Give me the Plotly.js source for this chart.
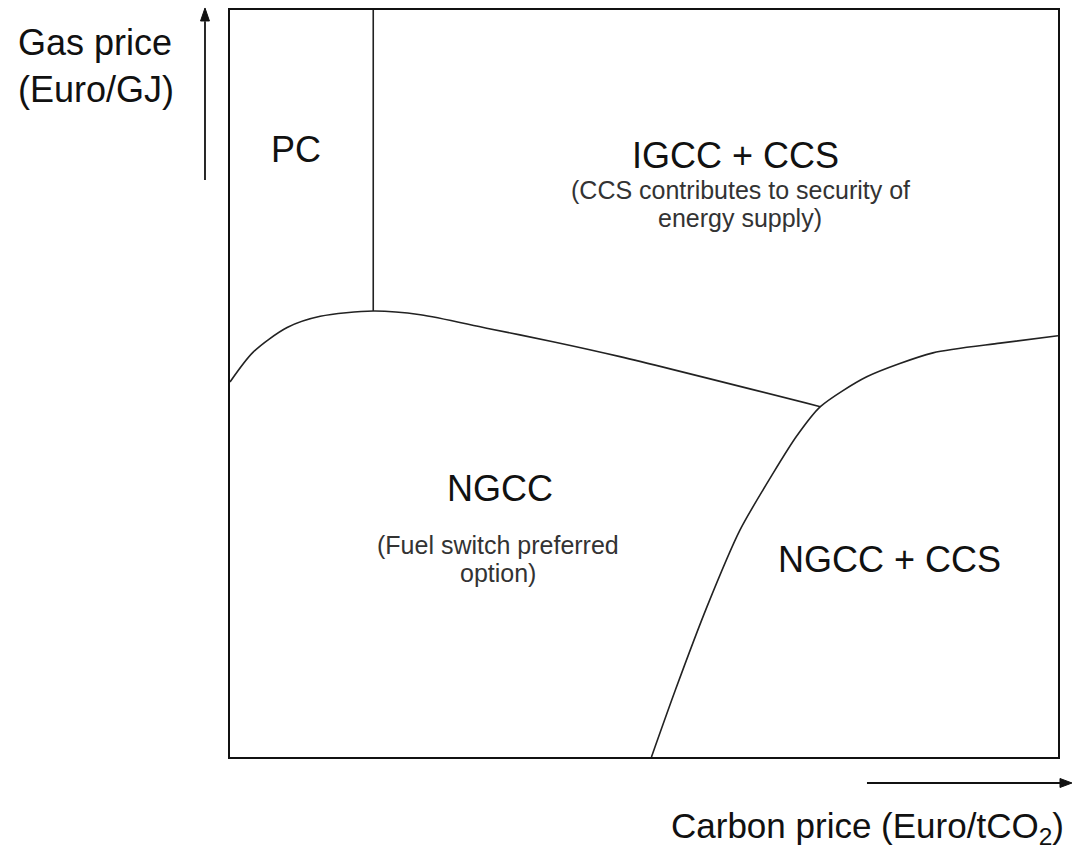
<!DOCTYPE html>
<html>
<head>
<meta charset="utf-8">
<script src="https://cdn.plot.ly/plotly-3.0.1.min.js"></script>
<style>html,body{margin:0;padding:0;background:#fff;}#chart{width:1073px;height:849px;}</style>
</head>
<body>
<div id="chart"></div>
<script>
// Boundary between PC and IGCC + CCS (vertical divider)
const pcX = [17.3, 17.3];
const pcY = [59.7, 100];

// Upper boundary of NGCC region (coal vs gas)
const upperX = [0, 2.8, 6.9, 10.9, 17.3, 23.0, 31.0, 39.0, 47.1, 71.3];
const upperY = [50.2, 54.2, 57.5, 59.0, 59.7, 59.2, 57.4, 55.6, 53.6, 46.9];

// Boundary between NGCC and NGCC + CCS
const ccsX = [50.9, 53.8, 57.6, 61.6, 65.6, 68.4, 71.3, 76.9, 84.9, 93.0, 100];
const ccsY = [0, 9.0, 20.1, 30.4, 38.0, 42.9, 46.9, 50.9, 54.1, 55.4, 56.4];

// Region labels
const mainLabels = ["PC", "IGCC + CCS", "NGCC", "NGCC + CCS"];
const mainX = [8.0, 61.0, 32.6, 79.7];
const mainY = [81.3, 80.5, 36.0, 26.4];

const subLabels = ["(CCS contributes to security of", "energy supply)", "(Fuel switch preferred", "option)"];
const subX = [61.6, 61.6, 32.4, 32.4];
const subY = [75.9, 72.2, 28.4, 24.6];

const yTitle = "Gas price<br>(Euro/GJ)";
const xTitle = "Carbon price (Euro/tCO<sub>2</sub>)";

const lineStyle = {color: "#222", width: 1.6};
const traces = [
  {x: pcX, y: pcY, mode: "lines", line: lineStyle, hoverinfo: "skip"},
  {x: upperX, y: upperY, mode: "lines", line: Object.assign({shape: "spline", smoothing: 0.8}, lineStyle), hoverinfo: "skip"},
  {x: ccsX, y: ccsY, mode: "lines", line: Object.assign({shape: "spline", smoothing: 0.7}, lineStyle), hoverinfo: "skip"}
];

const font = "Liberation Sans, Arial, sans-serif";
const annotations = [];
mainLabels.forEach((t, i) => annotations.push({
  x: mainX[i], y: mainY[i], xref: "x", yref: "y", text: t, showarrow: false,
  xanchor: "center", yanchor: "middle",
  font: {family: font, size: 36, color: "#111"}
}));
subLabels.forEach((t, i) => annotations.push({
  x: subX[i], y: subY[i], xref: "x", yref: "y", text: t, showarrow: false,
  xanchor: "center", yanchor: "middle",
  font: {family: font, size: 25, color: "#333"}
}));
// axis titles
annotations.push({x: -0.2585, y: 0.9248, xref: "paper", yref: "paper", xanchor: "left", yanchor: "middle",
  text: yTitle, showarrow: false, align: "left",
  font: {family: font, size: 36, color: "#111"}});
annotations.push({x: 1.0097, y: -0.095, xref: "paper", yref: "paper", xanchor: "right", yanchor: "middle",
  text: xTitle, showarrow: false,
  font: {family: font, size: 35, color: "#111"}});

const arrowLine = {color: "#111", width: 1.8};
const shapes = [
  // horizontal arrow (carbon price)
  {type: "line", xref: "paper", yref: "paper", x0: 0.7693, x1: 1.004, y0: -0.0348, y1: -0.0348, line: arrowLine},
  {type: "path", xref: "paper", yref: "paper", path: "M 1.0169 -0.0348 L 1.0024 -0.0288 L 1.0024 -0.0408 Z",
   fillcolor: "#111", line: {color: "#111", width: 1}},
  // vertical arrow (gas price)
  {type: "line", xref: "paper", yref: "paper", x0: -0.0302, x1: -0.0302, y0: 0.7724, y1: 0.985, line: arrowLine},
  {type: "path", xref: "paper", yref: "paper", path: "M -0.0302 1.0027 L -0.0356 0.9853 L -0.0248 0.9853 Z",
   fillcolor: "#111", line: {color: "#111", width: 1}}
];

const layout = {
  width: 1073, height: 849,
  margin: {l: 230, r: 15, t: 10, b: 92},
  paper_bgcolor: "#fff", plot_bgcolor: "#fff",
  showlegend: false,
  xaxis: {range: [0, 100], showgrid: false, zeroline: false, showticklabels: false, ticks: "",
          showline: true, mirror: true, linecolor: "#111", linewidth: 1.6, fixedrange: true},
  yaxis: {range: [0, 100], showgrid: false, zeroline: false, showticklabels: false, ticks: "",
          showline: true, mirror: true, linecolor: "#111", linewidth: 1.6, fixedrange: true},
  annotations: annotations,
  shapes: shapes
};

Plotly.newPlot("chart", traces, layout, {displayModeBar: false, staticPlot: true});
</script>
</body>
</html>
